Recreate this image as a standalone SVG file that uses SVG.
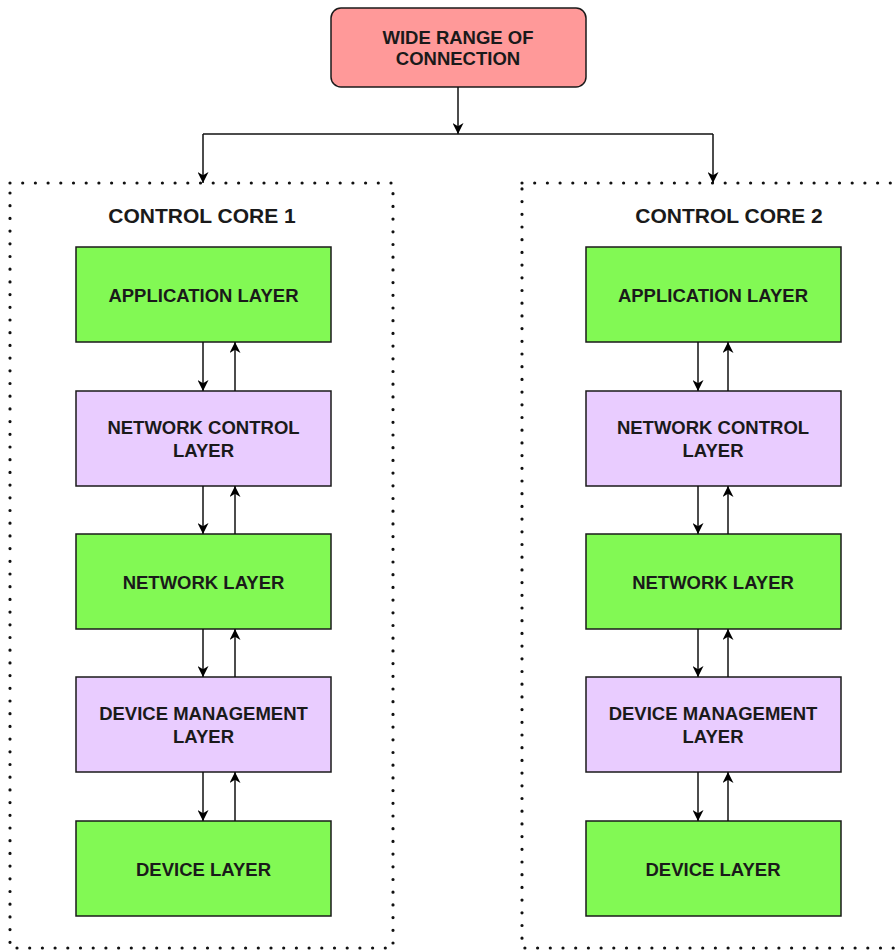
<svg xmlns="http://www.w3.org/2000/svg" width="896" height="951" viewBox="0 0 896 951">
<defs>
<marker id="arr" viewBox="0 0 10 10" refX="10" refY="5" markerWidth="12" markerHeight="11" markerUnits="userSpaceOnUse" orient="auto">
<path d="M0,0 L10,5 L0,10 L3,5 Z" fill="#000"/>
</marker>
<style>
.t{font-family:"Liberation Sans",Arial,sans-serif;font-weight:bold;font-size:18.5px;fill:#1a1a1a;text-anchor:middle}
.h{font-size:21px}
.g{fill:#82F954;stroke:#1a1a1a;stroke-width:1.5}
.p{fill:#E9CCFF;stroke:#1a1a1a;stroke-width:1.5}
.dot{fill:none;stroke:#111;stroke-width:3.2;stroke-linecap:round;stroke-dasharray:0 12.7}
.c{fill:none;stroke:#111;stroke-width:1.5;marker-end:url(#arr)}
.l{fill:none;stroke:#111;stroke-width:1.5}
</style>
</defs>
<rect width="896" height="951" fill="#fff"/>
<g id="core1">
<rect class="dot" x="10" y="183" width="383" height="765"/>
<text class="t h" x="202" y="223">CONTROL CORE 1</text>
</g>
<g id="core2">
<rect class="dot" x="522" y="183" width="400" height="765"/>
<text class="t h" x="729" y="223">CONTROL CORE 2</text>
</g>
<g id="top">
<rect x="331" y="8" width="255" height="79" rx="10" fill="#FF9999" stroke="#1a1a1a" stroke-width="1.5"/>
<text class="t" x="458" y="43.5">WIDE RANGE OF</text>
<text class="t" x="458" y="65">CONNECTION</text>
</g>
<g id="app1"><rect class="g" x="76" y="247" width="255" height="95"/><text class="t" x="203.5" y="301.5">APPLICATION LAYER</text></g>
<g id="netctl1"><rect class="p" x="76" y="391" width="255" height="95"/><text class="t" x="203.5" y="434">NETWORK CONTROL</text><text class="t" x="203.5" y="457">LAYER</text></g>
<g id="net1"><rect class="g" x="76" y="534" width="255" height="95"/><text class="t" x="203.5" y="588.5">NETWORK LAYER</text></g>
<g id="devmgmt1"><rect class="p" x="76" y="677" width="255" height="95"/><text class="t" x="203.5" y="720">DEVICE MANAGEMENT</text><text class="t" x="203.5" y="743">LAYER</text></g>
<g id="dev1"><rect class="g" x="76" y="821" width="255" height="95"/><text class="t" x="203.5" y="875.5">DEVICE LAYER</text></g>
<g id="app2"><rect class="g" x="586" y="247" width="255" height="95"/><text class="t" x="713" y="301.5">APPLICATION LAYER</text></g>
<g id="netctl2"><rect class="p" x="586" y="391" width="255" height="95"/><text class="t" x="713" y="434">NETWORK CONTROL</text><text class="t" x="713" y="457">LAYER</text></g>
<g id="net2"><rect class="g" x="586" y="534" width="255" height="95"/><text class="t" x="713" y="588.5">NETWORK LAYER</text></g>
<g id="devmgmt2"><rect class="p" x="586" y="677" width="255" height="95"/><text class="t" x="713" y="720">DEVICE MANAGEMENT</text><text class="t" x="713" y="743">LAYER</text></g>
<g id="dev2"><rect class="g" x="586" y="821" width="255" height="95"/><text class="t" x="713" y="875.5">DEVICE LAYER</text></g>
<g id="connectors">
<path class="c" d="M458,87 V134"/>
<path class="l" d="M203,134 H713"/>
<path class="c" d="M203,134 V183"/>
<path class="c" d="M713,134 V183"/>
<path class="c" d="M203,342 V391"/><path class="c" d="M235,391 V342"/>
<path class="c" d="M203,486 V534"/><path class="c" d="M235,534 V486"/>
<path class="c" d="M203,629 V677"/><path class="c" d="M235,677 V629"/>
<path class="c" d="M203,772 V821"/><path class="c" d="M235,821 V772"/>
<path class="c" d="M698,342 V391"/><path class="c" d="M728,391 V342"/>
<path class="c" d="M698,486 V534"/><path class="c" d="M728,534 V486"/>
<path class="c" d="M698,629 V677"/><path class="c" d="M728,677 V629"/>
<path class="c" d="M698,772 V821"/><path class="c" d="M728,821 V772"/>
</g>
</svg>
